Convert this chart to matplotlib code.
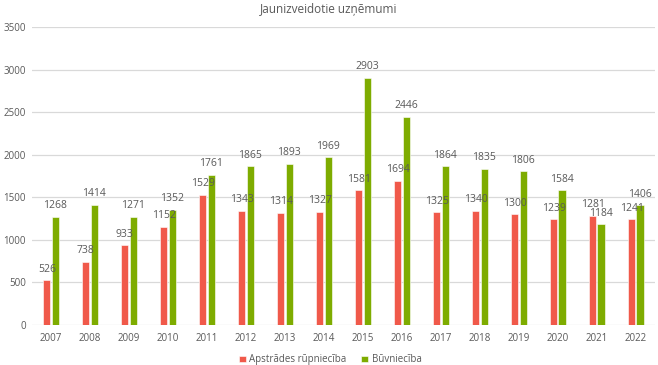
import numpy as np
import matplotlib
matplotlib.use("Agg")
import matplotlib.pyplot as plt

years = ["2007", "2008", "2009", "2010", "2011", "2012", "2013", "2014",
         "2015", "2016", "2017", "2018", "2019", "2020", "2021", "2022"]
manufacturing = [526, 738, 933, 1152, 1529, 1343, 1314, 1327,
                 1581, 1694, 1325, 1340, 1300, 1239, 1281, 1241]
construction = [1268, 1414, 1271, 1352, 1761, 1865, 1893, 1969,
                2903, 2446, 1864, 1835, 1806, 1584, 1184, 1406]

plt.rcParams['font.family'] = ['Open Sans', 'DejaVu Sans']
red = "#F0594A"
green = "#7EAC00"
gray = "#595959"

fig = plt.figure(figsize=(6.58, 3.65), dpi=100)
ax = fig.add_axes([0.048, 0.11, 0.948, 0.816])

x = np.arange(len(years))
w = 0.185
gap = 0.03
b1 = ax.bar(x - w / 2 - gap / 2, manufacturing, w, color=red,
            edgecolor="white", linewidth=0.4, label="Apstrādes rūpniecība", zorder=3)
b2 = ax.bar(x + w / 2 + gap / 2, construction, w, color=green,
            edgecolor="white", linewidth=0.4, label="Būvniecība", zorder=3)

for bars, vals in ((b1, manufacturing), (b2, construction)):
    for bar, v in zip(bars, vals):
        ax.annotate(str(v), (bar.get_x() + bar.get_width() / 2, v),
                    xytext=(0, 4), textcoords="offset points",
                    ha="center", va="bottom", fontsize=7.5, color=gray, zorder=4)

ax.set_xlim(-0.5, len(years) - 0.5)
ax.set_ylim(0, 3500)
ax.set_yticks(range(0, 3501, 500))
ax.set_xticks(x)
ax.set_xticklabels(years)
ax.grid(axis="y", color="#D9D9D9", linewidth=0.9, zorder=0)
for s in ax.spines.values():
    s.set_visible(False)
ax.tick_params(length=0, labelsize=7, colors=gray, pad=6)
ax.tick_params(axis="y", pad=4)

fig.text(0.5, 1 - 9 / 365, "Jaunizveidotie uzņēmumi", fontsize=8.5,
         color=gray, ha="center", va="center")

fig.legend(loc="lower center", bbox_to_anchor=(0.502, -0.025), ncol=2, frameon=False,
           fontsize=7, labelcolor=gray, handlelength=0.7, handleheight=0.7,
           handletextpad=0.4, columnspacing=1.5)

fig.savefig("out.png", dpi=100)
